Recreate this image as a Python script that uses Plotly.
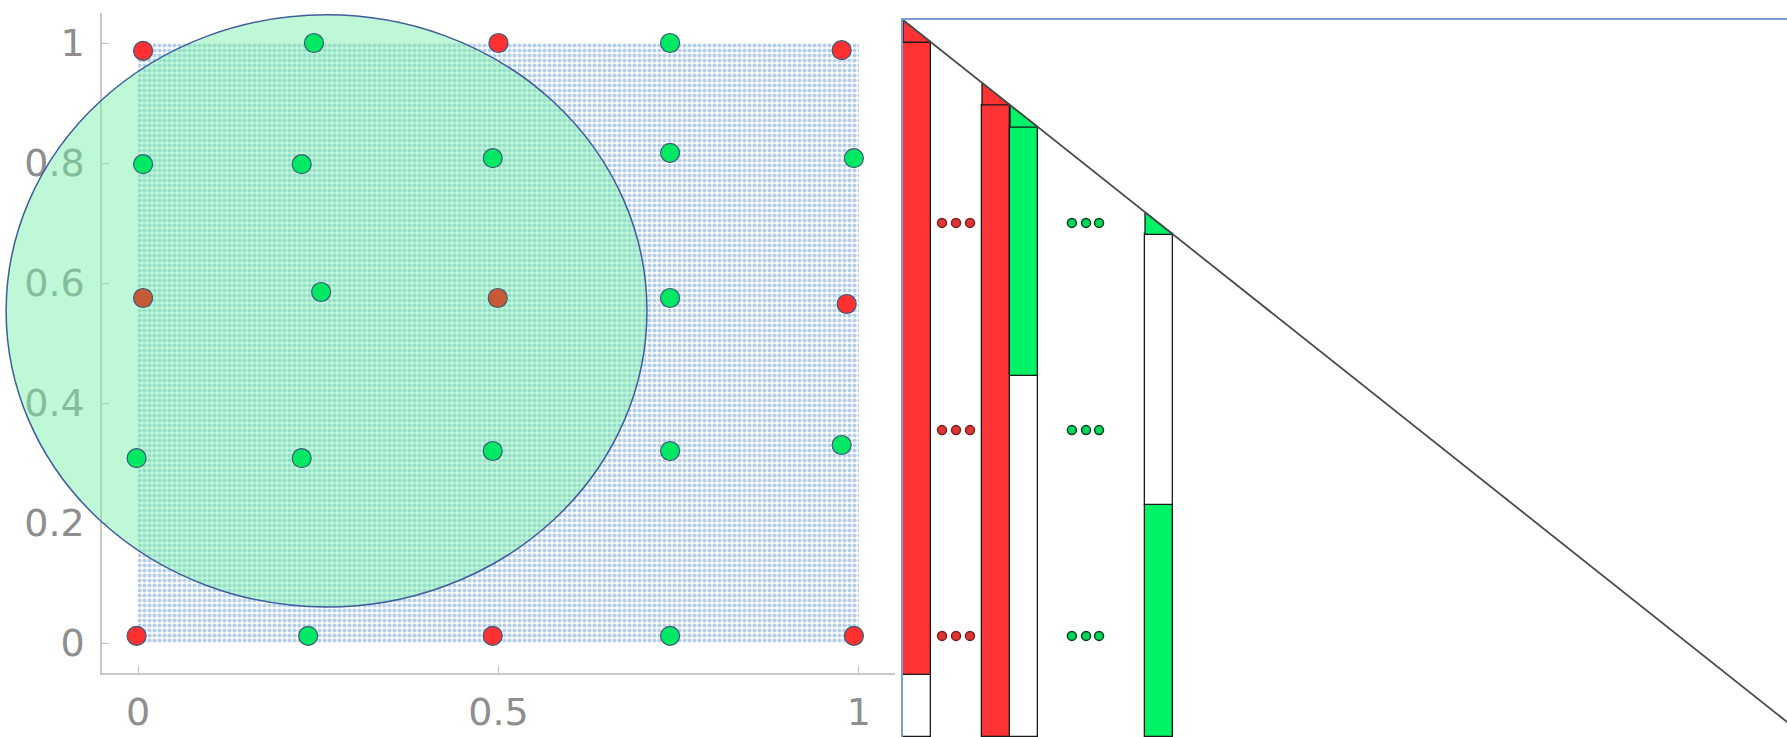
import plotly.graph_objects as go

W, H = 1787, 737

# ---------------- left panel: unit square, sample cloud, disc, grid points ----------------
cloud_x = [0, 1, 1, 0, 0]
cloud_y = [0, 0, 1, 1, 0]

disc_center = (0.2615, 0.5535)
disc_radius = (0.4445, 0.4935)

grid_x = [0.007, 0.244, 0.500, 0.738, 0.976,
          0.007, 0.227, 0.492, 0.738, 0.993,
          0.007, 0.254, 0.499, 0.738, 0.983,
          -0.002, 0.227, 0.492, 0.738, 0.976,
          -0.002, 0.236, 0.492, 0.738, 0.993]
grid_y = [0.987, 1.000, 1.000, 1.000, 0.988,
          0.798, 0.798, 0.808, 0.817, 0.808,
          0.575, 0.585, 0.575, 0.575, 0.565,
          0.308, 0.308, 0.320, 0.320, 0.330,
          0.012, 0.012, 0.012, 0.012, 0.012]
grid_state = ["red", "green", "red", "green", "red",
              "green", "green", "green", "green", "green",
              "brown", "green", "brown", "green", "red",
              "green", "green", "green", "green", "green",
              "red", "green", "red", "green", "red"]

x_tick_vals = [0, 0.5, 1]
x_tick_text = ["0", "0.5", "1"]
y_tick_vals = [0, 0.2, 0.4, 0.6, 0.8, 1]
y_tick_text = ["0", "0.2", "0.4", "0.6", "0.8", "1"]

# ---------------- right panel: f(x) = 1 - x with stacked columns ----------------
curve_x = [0, 1]
curve_y = [1, 0]

col_left = [0.0, 0.0875, 0.1185, 0.268]
col_cap = ["red", "red", "green", "green"]
# lower segments of each column: (column, bottom, top, colour)
seg_col = [0, 2, 3]
seg_bottom = [0.0, 0.0, 0.0]
seg_top = [0.0865, 0.5035, 0.3236]
seg_color = ["white", "white", "green"]
# upper segments run from a split value up to f(right edge)
upper_col = [0, 1, 2, 3]
upper_from = [0.0865, 0.0, 0.5035, 0.3236]
upper_color = ["red", "red", "green", "white"]

dots_red_x = [0.0432, 0.0587, 0.0742]
dots_green_x = [0.187, 0.2027, 0.2171]
dots_rows_y = [0.717, 0.428, 0.141]

COL_W = 0.031
PALETTE = {"red": "#FF3333", "green": "#00F266", "brown": "#C45C38", "white": "#FFFFFF"}
POINT_PALETTE = {"red": "#FF3030", "green": "#00E864", "brown": "#C65A36"}


def f(x):
    return 1 - x


# paper-space layout helpers
def px_x(p):
    return p / W


def px_y(p):
    return 1 - p / H


fig = go.Figure()

# dense sample cloud over the unit square (dot texture)
fig.add_trace(go.Scatter(
    x=cloud_x, y=cloud_y, mode="none", fill="toself",
    fillcolor="rgba(0,0,0,0)",
    fillpattern=dict(shape=".", size=5, solidity=0.55,
                     fgcolor="rgb(108,158,210)", bgcolor="rgba(0,0,0,0)"),
    xaxis="x", yaxis="y", hoverinfo="skip", showlegend=False))

# grid points, drawn above the disc on the wide overlay subplot
fig.add_trace(go.Scatter(
    x=grid_x, y=grid_y, mode="markers",
    marker=dict(size=19, color=[POINT_PALETTE[s] for s in grid_state],
                line=dict(color="#3d5a78", width=1.2)),
    xaxis="x2", yaxis="y2", showlegend=False))

# right panel: column segments
for c, b, t, colr in zip(seg_col, seg_bottom, seg_top, seg_color):
    fig.add_trace(go.Bar(
        x=[col_left[c] + COL_W / 2], y=[t - b], base=[b], width=[COL_W],
        marker=dict(color=PALETTE[colr], line=dict(color="#1a1a1a", width=1.3)),
        xaxis="x3", yaxis="y3", showlegend=False))
for c, b, colr in zip(upper_col, upper_from, upper_color):
    top = f(col_left[c] + COL_W)
    fig.add_trace(go.Bar(
        x=[col_left[c] + COL_W / 2], y=[top - b], base=[b], width=[COL_W],
        marker=dict(color=PALETTE[colr], line=dict(color="#1a1a1a", width=1.3)),
        xaxis="x3", yaxis="y3", showlegend=False))

# triangular caps between the column top and the curve
for xl, colr in zip(col_left, col_cap):
    xr = xl + COL_W
    fig.add_trace(go.Scatter(
        x=[xl, xl, xr, xl], y=[f(xl), f(xr), f(xr), f(xl)],
        mode="lines", fill="toself", fillcolor=PALETTE[colr],
        line=dict(color="#1a1a1a", width=1.3),
        xaxis="x3", yaxis="y3", showlegend=False))

# the curve itself
fig.add_trace(go.Scatter(
    x=curve_x, y=curve_y, mode="lines",
    line=dict(color="#4a4a4a", width=1.8),
    xaxis="x3", yaxis="y3", showlegend=False))

# ellipsis markers
for xs, colr, edge in [(dots_red_x, "#E03535", "#7a1f1f"), (dots_green_x, "#00D85A", "#0b3d1d")]:
    fig.add_trace(go.Scatter(
        x=[x for _ in dots_rows_y for x in xs],
        y=[y for y in dots_rows_y for _ in xs],
        mode="markers",
        marker=dict(size=9, color=colr, line=dict(color=edge, width=1.5)),
        xaxis="x3", yaxis="y3", showlegend=False))

# translucent disc on the wide subplot (so it can extend past the axes)
fig.add_shape(
    type="circle", xref="x2", yref="y2", layer="below",
    x0=disc_center[0] - disc_radius[0], x1=disc_center[0] + disc_radius[0],
    y0=disc_center[1] - disc_radius[1], y1=disc_center[1] + disc_radius[1],
    fillcolor="rgba(120,240,170,0.48)", line=dict(color="#3f5c9c", width=1.5))

# left axes geometry: 721 px per unit in x, 600 px per unit in y
left_dom_x = [px_x(102), px_x(895)]
left_dom_y = [px_y(673), px_y(13)]
x_range = [-0.05, 1.05]
y_range = [-0.05, 1.05]
x2_left = x_range[0] - 102 / 721

axis_font = dict(family="DejaVu Sans, sans-serif", size=38, color="#8e8e8e")
hidden = dict(visible=False, showgrid=False, zeroline=False, automargin=False)

fig.update_layout(
    width=W, height=H, autosize=False,
    margin=dict(l=0, r=0, t=0, b=0, autoexpand=False),
    paper_bgcolor="white", plot_bgcolor="rgba(0,0,0,0)",
    barmode="overlay", bargap=0,
    showlegend=False,
    xaxis=dict(domain=left_dom_x, range=x_range, anchor="y", automargin=False,
               tickvals=x_tick_vals, ticktext=x_tick_text,
               ticks="inside", ticklen=7, tickwidth=1.2, tickcolor="#bdbdbd",
               showline=True, linecolor="#c8c8c8", linewidth=1.5,
               showgrid=False, zeroline=False, tickfont=axis_font,
               ticklabelstandoff=5),
    yaxis=dict(domain=left_dom_y, range=y_range, anchor="x", automargin=False,
               tickvals=y_tick_vals, ticktext=y_tick_text,
               ticks="inside", ticklen=7, tickwidth=1.2, tickcolor="#bdbdbd",
               showline=True, linecolor="#c8c8c8", linewidth=1.5,
               showgrid=False, zeroline=False, tickfont=axis_font,
               ticklabelstandoff=8),
    xaxis2=dict(domain=[0, px_x(895)], range=[x2_left, x_range[1]], anchor="y2", **hidden),
    yaxis2=dict(domain=left_dom_y, range=y_range, anchor="x2", **hidden),
    xaxis3=dict(domain=[px_x(903), 1.0], range=[0, 884 / 903], anchor="y3",
                side="top", showline=True, linecolor="#7d9bd4", linewidth=1.5,
                showticklabels=False, ticks="", showgrid=False, zeroline=False,
                layer="below traces", automargin=False),
    yaxis3=dict(domain=[0, px_y(20)], range=[0, 1], anchor="x3",
                showline=True, linecolor="#7d9bd4", linewidth=1.5,
                showticklabels=False, ticks="", showgrid=False, zeroline=False,
                layer="below traces", automargin=False),
)

fig.write_html("out.html")
